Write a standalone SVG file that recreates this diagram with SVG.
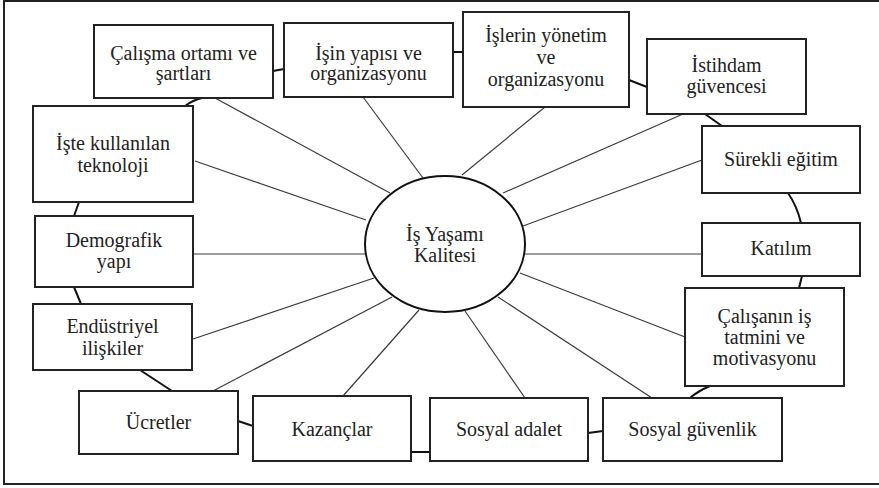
<svg xmlns="http://www.w3.org/2000/svg" width="879" height="488" viewBox="0 0 879 488">
<style>
.frame{fill:#fff;stroke:#222;stroke-width:2}
.box{fill:#fff;stroke:#222;stroke-width:2}
.hub{fill:#fff;stroke:#111;stroke-width:2}
.spoke{stroke:#3a3a3a;stroke-width:1.2;fill:none}
.ring{stroke:#111;stroke-width:2;fill:none}
text{font-family:'Liberation Serif','Times New Roman',serif;font-size:20px;fill:#222;text-anchor:middle}
</style>
<rect class="frame" x="4" y="1" width="890" height="483"/>
<g id="connectors">
<line class="spoke" x1="215" y1="98" x2="390" y2="193"/>
<line class="spoke" x1="363" y1="97" x2="423" y2="178"/>
<line class="spoke" x1="545" y1="107" x2="462" y2="175"/>
<line class="spoke" x1="683" y1="114" x2="503" y2="193"/>
<line class="spoke" x1="702" y1="160" x2="523" y2="226"/>
<line class="spoke" x1="525" y1="254" x2="702" y2="254"/>
<line class="spoke" x1="520" y1="273" x2="685" y2="337"/>
<line class="spoke" x1="498" y1="297" x2="652" y2="398"/>
<line class="spoke" x1="465" y1="311" x2="525" y2="398"/>
<line class="spoke" x1="419" y1="310" x2="343" y2="396"/>
<line class="spoke" x1="392" y1="297" x2="213" y2="391"/>
<line class="spoke" x1="374" y1="278" x2="193" y2="339"/>
<line class="spoke" x1="193" y1="254" x2="365" y2="254"/>
<line class="spoke" x1="195" y1="161" x2="366" y2="220"/>
<line class="ring" x1="273" y1="71" x2="284" y2="69"/>
<line class="ring" x1="453" y1="52" x2="463" y2="52"/>
<line class="ring" x1="629" y1="80" x2="647" y2="87"/>
<line class="ring" x1="705" y1="114" x2="722" y2="126"/>
<path class="ring" d="M788 193 Q797 206 801 223"/>
<line class="ring" x1="802" y1="276" x2="799" y2="288"/>
<path class="ring" d="M710 386 Q698 391 690 398"/>
<line class="ring" x1="588" y1="433" x2="603" y2="431"/>
<line class="ring" x1="411" y1="452" x2="430" y2="452"/>
<line class="ring" x1="238" y1="421" x2="253" y2="426"/>
<line class="ring" x1="140" y1="370" x2="172" y2="391"/>
<line class="ring" x1="74" y1="287" x2="81" y2="304"/>
<line class="ring" x1="74" y1="216" x2="79" y2="202"/>
<path class="ring" d="M185 106 Q193 100 202 98"/>
</g>
<g id="hub">
<ellipse class="hub" cx="445" cy="244" rx="80" ry="68"/>
<text x="445" y="241">İş Yaşamı</text>
<text x="445" y="262">Kalitesi</text>
</g>
<g id="n-calisma-ortami">
<rect class="box" x="94" y="25" width="179" height="73"/>
<text x="183.5" y="60">Çalışma ortamı ve</text>
<text x="183.5" y="80">şartları</text>
</g>
<g id="n-isin-yapisi">
<rect class="box" x="284" y="23" width="169" height="74"/>
<text x="368.5" y="60">İşin yapısı ve</text>
<text x="368.5" y="80">organizasyonu</text>
</g>
<g id="n-islerin-yonetim">
<rect class="box" x="463" y="12" width="166" height="95"/>
<text x="546" y="42">İşlerin yönetim</text>
<text x="546" y="64">ve</text>
<text x="546" y="86">organizasyonu</text>
</g>
<g id="n-istihdam">
<rect class="box" x="647" y="39" width="159" height="75"/>
<text x="726.5" y="72">İstihdam</text>
<text x="726.5" y="93">güvencesi</text>
</g>
<g id="n-surekli-egitim">
<rect class="box" x="702" y="126" width="158" height="67"/>
<text x="781" y="166">Sürekli eğitim</text>
</g>
<g id="n-katilim">
<rect class="box" x="702" y="223" width="158" height="53"/>
<text x="781" y="255">Katılım</text>
</g>
<g id="n-calisanin">
<rect class="box" x="685" y="288" width="159" height="98"/>
<text x="764.5" y="323">Çalışanın iş</text>
<text x="764.5" y="344">tatmini ve</text>
<text x="764.5" y="365">motivasyonu</text>
</g>
<g id="n-sosyal-guvenlik">
<rect class="box" x="603" y="398" width="179" height="63"/>
<text x="692.5" y="436">Sosyal güvenlik</text>
</g>
<g id="n-sosyal-adalet">
<rect class="box" x="430" y="398" width="158" height="63"/>
<text x="509" y="436">Sosyal adalet</text>
</g>
<g id="n-kazanclar">
<rect class="box" x="253" y="396" width="158" height="65"/>
<text x="332" y="436">Kazançlar</text>
</g>
<g id="n-ucretler">
<rect class="box" x="79" y="391" width="159" height="63"/>
<text x="158.5" y="429">Ücretler</text>
</g>
<g id="n-endustriyel">
<rect class="box" x="33" y="304" width="159" height="66"/>
<text x="112.5" y="333">Endüstriyel</text>
<text x="112.5" y="355">ilişkiler</text>
</g>
<g id="n-demografik">
<rect class="box" x="35" y="216" width="158" height="71"/>
<text x="114" y="247">Demografik</text>
<text x="114" y="268">yapı</text>
</g>
<g id="n-teknoloji">
<rect class="box" x="33" y="106" width="160" height="96"/>
<text x="113" y="150">İşte kullanılan</text>
<text x="113" y="172">teknoloji</text>
</g>
</svg>
